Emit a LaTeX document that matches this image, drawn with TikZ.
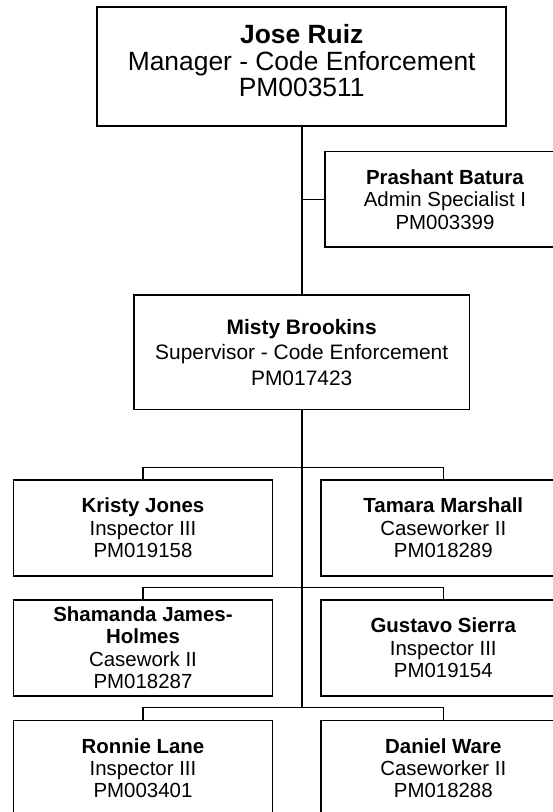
\documentclass[tikz,border=0pt]{standalone}
\usepackage{fontspec}
\setmainfont{Liberation Sans}

\begin{document}
\begin{tikzpicture}[x=1bp,y=-1bp]
		\tikzset{box/.style = {shape=rectangle, draw, line width=1.6bp, align=center, inner sep=0pt, minimum height=95.7bp},
			staff/.style = {box, font=\fontsize{20.5}{22.5}\selectfont},
			trunk/.style = {line width=2bp},
			bar/.style = {line width=1.3bp}}

		\useasboundingbox (0,0) rectangle (553,812);
		\clip (0,0) rectangle (553,812);

		\node[box, line width=2bp, minimum width=408.7bp, minimum height=119.3bp, font=\fontsize{26.5}{26.5}\selectfont] (mgr) at (301.7,66.4) {\textbf{Jose Ruiz}\\Manager - Code Enforcement\\PM003511\\[-14.5bp]};
		\node[staff, minimum width=240bp, minimum height=95.5bp] (admin) at (445,199.3) {\textbf{Prashant Batura}\\Admin Specialist I\\PM003399};
		\node[box, minimum width=335.4bp, minimum height=114.3bp, font=\fontsize{21}{25.5}\selectfont] (sup) at (301.7,352.2) {\textbf{Misty Brookins}\\Supervisor - Code Enforcement\\PM017423};

		\node[staff, minimum width=258.6bp] (S_1) at (143,527.9) {\textbf{Kristy Jones}\\Inspector III\\PM019158};
		\node[staff, minimum width=245.2bp] (S_2) at (443.3,527.9) {\textbf{Tamara Marshall}\\Caseworker II\\PM018289};
		\node[staff, minimum width=258.6bp] (S_3) at (143,647.9) {\textbf{Shamanda James-}\\\textbf{Holmes}\\Casework II\\PM018287};
		\node[staff, minimum width=245.2bp] (S_4) at (443.3,647.9) {\textbf{Gustavo Sierra}\\Inspector III\\PM019154};
		\node[staff, minimum width=258.6bp] (S_5) at (143,768.2) {\textbf{Ronnie Lane}\\Inspector III\\PM003401};
		\node[staff, minimum width=245.2bp] (S_6) at (443.3,768.2) {\textbf{Daniel Ware}\\Caseworker II\\PM018288};

		\coordinate (J_1) at (301.7,467.7);
		\coordinate (J_2) at (301.7,587.3);
		\coordinate (J_3) at (301.7,707.3);

		\draw[trunk] (mgr.south)--(sup.north);
		\draw[bar] (admin.west)--(admin.west -| mgr.south);
		\draw[trunk] (sup.south)--(J_3);

		\draw[bar] (S_1.north) |- (J_1) -| (S_2.north);
		\draw[bar] (S_3.north) |- (J_2) -| (S_4.north);
		\draw[bar] (S_5.north) |- (J_3) -| (S_6.north);

	\end{tikzpicture}
\end{document}
